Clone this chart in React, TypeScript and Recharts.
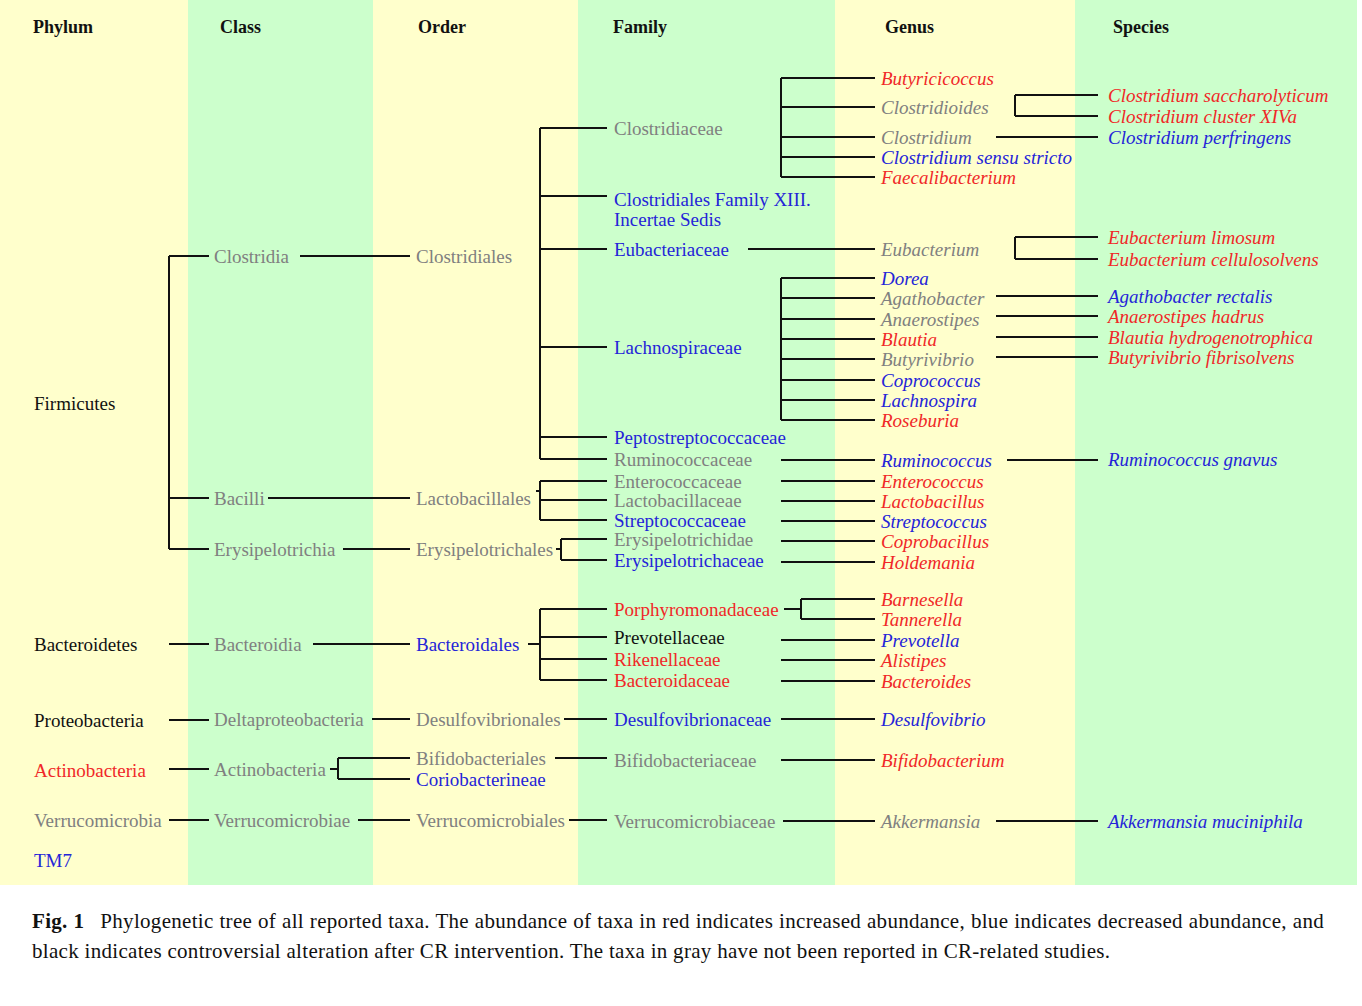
import { ScatterChart, Scatter, XAxis, YAxis, ReferenceArea, ReferenceLine } from 'recharts';

const RED = '#f02828';
const BLUE = '#2424d8';
const GRAY = '#808080';
const BLACK = '#111111';

type Node = { name: string; y: number; c: string };

const headers = [
  { name: 'Phylum', x: 33 }, { name: 'Class', x: 220 }, { name: 'Order', x: 418 },
  { name: 'Family', x: 613 }, { name: 'Genus', x: 885 }, { name: 'Species', x: 1113 },
];
const bands = [
  { x1: 0, x2: 188, fill: '#ffffcc' }, { x1: 188, x2: 373, fill: '#ccffcc' },
  { x1: 373, x2: 578, fill: '#ffffcc' }, { x1: 578, x2: 835, fill: '#ccffcc' },
  { x1: 835, x2: 1075, fill: '#ffffcc' }, { x1: 1075, x2: 1357, fill: '#ccffcc' },
];

const phylum: Node[] = [
  { name: 'Firmicutes', y: 403, c: BLACK }, { name: 'Bacteroidetes', y: 644, c: BLACK },
  { name: 'Proteobacteria', y: 720, c: BLACK }, { name: 'Actinobacteria', y: 770, c: RED },
  { name: 'Verrucomicrobia', y: 820, c: GRAY }, { name: 'TM7', y: 860, c: BLUE },
];
const classes: Node[] = [
  { name: 'Clostridia', y: 256, c: GRAY }, { name: 'Bacilli', y: 498, c: GRAY },
  { name: 'Erysipelotrichia', y: 549, c: GRAY }, { name: 'Bacteroidia', y: 644, c: GRAY },
  { name: 'Deltaproteobacteria', y: 719, c: GRAY }, { name: 'Actinobacteria', y: 769, c: GRAY },
  { name: 'Verrucomicrobiae', y: 820, c: GRAY },
];
const orders: Node[] = [
  { name: 'Clostridiales', y: 256, c: GRAY }, { name: 'Lactobacillales', y: 498, c: GRAY },
  { name: 'Erysipelotrichales', y: 549, c: GRAY }, { name: 'Bacteroidales', y: 644, c: BLUE },
  { name: 'Desulfovibrionales', y: 719, c: GRAY }, { name: 'Bifidobacteriales', y: 758, c: GRAY },
  { name: 'Coriobacterineae', y: 779, c: BLUE }, { name: 'Verrucomicrobiales', y: 820, c: GRAY },
];
const families: Node[] = [
  { name: 'Clostridiaceae', y: 128, c: GRAY }, { name: 'Clostridiales Family XIII.', y: 199, c: BLUE },
  { name: 'Incertae Sedis', y: 219, c: BLUE }, { name: 'Eubacteriaceae', y: 249, c: BLUE },
  { name: 'Lachnospiraceae', y: 347, c: BLUE }, { name: 'Peptostreptococcaceae', y: 437, c: BLUE },
  { name: 'Ruminococcaceae', y: 459, c: GRAY }, { name: 'Enterococcaceae', y: 481, c: GRAY },
  { name: 'Lactobacillaceae', y: 500, c: GRAY }, { name: 'Streptococcaceae', y: 520, c: BLUE },
  { name: 'Erysipelotrichidae', y: 539, c: GRAY }, { name: 'Erysipelotrichaceae', y: 560, c: BLUE },
  { name: 'Porphyromonadaceae', y: 609, c: RED }, { name: 'Prevotellaceae', y: 637, c: BLACK },
  { name: 'Rikenellaceae', y: 659, c: RED }, { name: 'Bacteroidaceae', y: 680, c: RED },
  { name: 'Desulfovibrionaceae', y: 719, c: BLUE }, { name: 'Bifidobacteriaceae', y: 760, c: GRAY },
  { name: 'Verrucomicrobiaceae', y: 821, c: GRAY },
];
const genera: Node[] = [
  { name: 'Butyricicoccus', y: 78, c: RED }, { name: 'Clostridioides', y: 107, c: GRAY },
  { name: 'Clostridium', y: 137, c: GRAY }, { name: 'Clostridium sensu stricto', y: 157, c: BLUE },
  { name: 'Faecalibacterium', y: 177, c: RED }, { name: 'Eubacterium', y: 249, c: GRAY },
  { name: 'Dorea', y: 278, c: BLUE }, { name: 'Agathobacter', y: 298, c: GRAY },
  { name: 'Anaerostipes', y: 319, c: GRAY }, { name: 'Blautia', y: 339, c: RED },
  { name: 'Butyrivibrio', y: 359, c: GRAY }, { name: 'Coprococcus', y: 380, c: BLUE },
  { name: 'Lachnospira', y: 400, c: BLUE }, { name: 'Roseburia', y: 420, c: RED },
  { name: 'Ruminococcus', y: 460, c: BLUE }, { name: 'Enterococcus', y: 481, c: RED },
  { name: 'Lactobacillus', y: 501, c: RED }, { name: 'Streptococcus', y: 521, c: BLUE },
  { name: 'Coprobacillus', y: 541, c: RED }, { name: 'Holdemania', y: 562, c: RED },
  { name: 'Barnesella', y: 599, c: RED }, { name: 'Tannerella', y: 619, c: RED },
  { name: 'Prevotella', y: 640, c: BLUE }, { name: 'Alistipes', y: 660, c: RED },
  { name: 'Bacteroides', y: 681, c: RED }, { name: 'Desulfovibrio', y: 719, c: BLUE },
  { name: 'Bifidobacterium', y: 760, c: RED }, { name: 'Akkermansia', y: 821, c: GRAY },
];
const species: Node[] = [
  { name: 'Clostridium saccharolyticum', y: 95, c: RED }, { name: 'Clostridium cluster XIVa', y: 116, c: RED },
  { name: 'Clostridium perfringens', y: 137, c: BLUE }, { name: 'Eubacterium limosum', y: 237, c: RED },
  { name: 'Eubacterium cellulosolvens', y: 259, c: RED }, { name: 'Agathobacter rectalis', y: 296, c: BLUE },
  { name: 'Anaerostipes hadrus', y: 316, c: RED }, { name: 'Blautia hydrogenotrophica', y: 337, c: RED },
  { name: 'Butyrivibrio fibrisolvens', y: 357, c: RED }, { name: 'Ruminococcus gnavus', y: 459, c: BLUE },
  { name: 'Akkermansia muciniphila', y: 821, c: BLUE },
];
const columns = [
  { x: 34, nodes: phylum, italic: false }, { x: 214, nodes: classes, italic: false },
  { x: 416, nodes: orders, italic: false }, { x: 614, nodes: families, italic: false },
  { x: 881, nodes: genera, italic: true }, { x: 1108, nodes: species, italic: true },
];

// links: parent y, line start, optional bracket x, line end, child rows
type Link = { y: number; from: number; bar?: number; to: number; kids?: number[] };
const links: Link[] = [
  { y: 403, from: 169, bar: 169, to: 209, kids: [256, 498, 549] },
  { y: 644, from: 169, to: 209 }, { y: 720, from: 169, to: 209 },
  { y: 769, from: 169, to: 209 }, { y: 820, from: 169, to: 209 },
  { y: 256, from: 300, to: 410 }, { y: 498, from: 268, to: 410 },
  { y: 549, from: 343, to: 410 }, { y: 644, from: 313, to: 410 },
  { y: 719, from: 372, to: 410 }, { y: 769, from: 330, bar: 338, to: 410, kids: [758, 779] },
  { y: 820, from: 358, to: 410 },
  { y: 256, from: 540, bar: 540, to: 607, kids: [128, 196, 249, 347, 437, 459] },
  { y: 491, from: 536, bar: 540, to: 607, kids: [481, 500, 520] },
  { y: 549, from: 556, bar: 561, to: 607, kids: [539, 560] },
  { y: 644, from: 528, bar: 540, to: 607, kids: [609, 637, 659, 680] },
  { y: 719, from: 564, to: 607 }, { y: 758, from: 555, to: 607 }, { y: 820, from: 569, to: 607 },
  { y: 128, from: 781, bar: 781, to: 875, kids: [78, 107, 137, 157, 177] },
  { y: 249, from: 748, to: 875 },
  { y: 347, from: 781, bar: 781, to: 875, kids: [278, 298, 319, 339, 359, 380, 400, 420] },
  { y: 460, from: 781, to: 875 }, { y: 481, from: 781, to: 875 }, { y: 501, from: 781, to: 875 },
  { y: 521, from: 781, to: 875 }, { y: 541, from: 781, to: 875 }, { y: 562, from: 781, to: 875 },
  { y: 609, from: 784, bar: 801, to: 875, kids: [599, 619] },
  { y: 640, from: 781, to: 875 }, { y: 660, from: 781, to: 875 }, { y: 681, from: 781, to: 875 },
  { y: 719, from: 781, to: 875 }, { y: 760, from: 781, to: 875 }, { y: 821, from: 783, to: 875 },
  { y: 107, from: 1015, bar: 1015, to: 1098, kids: [95, 116] },
  { y: 137, from: 996, to: 1098 },
  { y: 249, from: 1015, bar: 1015, to: 1098, kids: [237, 259] },
  { y: 296, from: 996, to: 1098 }, { y: 316, from: 996, to: 1098 }, { y: 337, from: 996, to: 1098 },
  { y: 357, from: 996, to: 1098 }, { y: 460, from: 1007, to: 1098 }, { y: 821, from: 996, to: 1098 },
];

type Seg = [{ x: number; y: number }, { x: number; y: number }];
function segments(): Seg[] {
  const out: Seg[] = [];
  links.forEach((l) => {
    if (l.bar === undefined || !l.kids) {
      out.push([{ x: l.from, y: l.y }, { x: l.to, y: l.y }]);
      return;
    }
    if (l.from < l.bar) out.push([{ x: l.from, y: l.y }, { x: l.bar, y: l.y }]);
    const ys = [...l.kids, l.y];
    out.push([{ x: l.bar, y: Math.min(...ys) }, { x: l.bar, y: Math.max(...ys) }]);
    l.kids.forEach((k) => out.push([{ x: l.bar!, y: k }, { x: l.to, y: k }]));
  });
  return out;
}

const FONT = '"Liberation Serif", "DejaVu Serif", serif';

export default function App() {
  const segs = segments();
  return (
    <div style={{ position: 'absolute', left: 0, top: 0, width: 1362, height: 1006, background: '#fff' }}>
      <ScatterChart width={1362} height={885} margin={{ top: 0, right: 0, bottom: 0, left: 0 }}>
        <XAxis type="number" dataKey="x" domain={[0, 1362]} hide />
        <YAxis type="number" dataKey="y" domain={[0, 885]} reversed hide />
        {bands.map((b, i) => (
          <ReferenceArea key={i} x1={b.x1} x2={b.x2} y1={0} y2={885} fill={b.fill} fillOpacity={1} stroke="none" />
        ))}
        {segs.map((s, i) => (
          <ReferenceLine key={'s' + i} segment={s} stroke="#111" strokeWidth={2} ifOverflow="visible" />
        ))}
        <Scatter
          data={headers.map((h) => ({ x: h.x, y: 27, name: h.name }))}
          isAnimationActive={false}
          shape={(p: any) => (
            <text x={p.cx} y={p.cy} dominantBaseline="central" fontFamily={FONT} fontSize={18} fontWeight="bold" fill="#111">
              {p.payload.name}
            </text>
          )}
        />
        {columns.map((col, ci) => (
          <Scatter
            key={ci}
            data={col.nodes.map((n) => ({ x: col.x, y: n.y, name: n.name, c: n.c }))}
            isAnimationActive={false}
            shape={(p: any) => (
              <text x={p.cx} y={p.cy} dominantBaseline="central" fontFamily={FONT} fontSize={19}
                fontStyle={col.italic ? 'italic' : 'normal'} fill={p.payload.c}>
                {p.payload.name}
              </text>
            )}
          />
        ))}
      </ScatterChart>
      <div style={{ position: 'absolute', left: 32, top: 906, width: 1292, fontFamily: FONT, fontSize: 21, lineHeight: '30px', textAlign: 'justify', color: '#111', letterSpacing: 0.3 }}>
        <b style={{ marginRight: 16 }}>Fig. 1</b>Phylogenetic tree of all reported taxa. The abundance of taxa in red indicates increased abundance, blue indicates decreased abundance, and black indicates controversial alteration after CR intervention. The taxa in gray have not been reported in CR-related studies.
      </div>
    </div>
  );
}
